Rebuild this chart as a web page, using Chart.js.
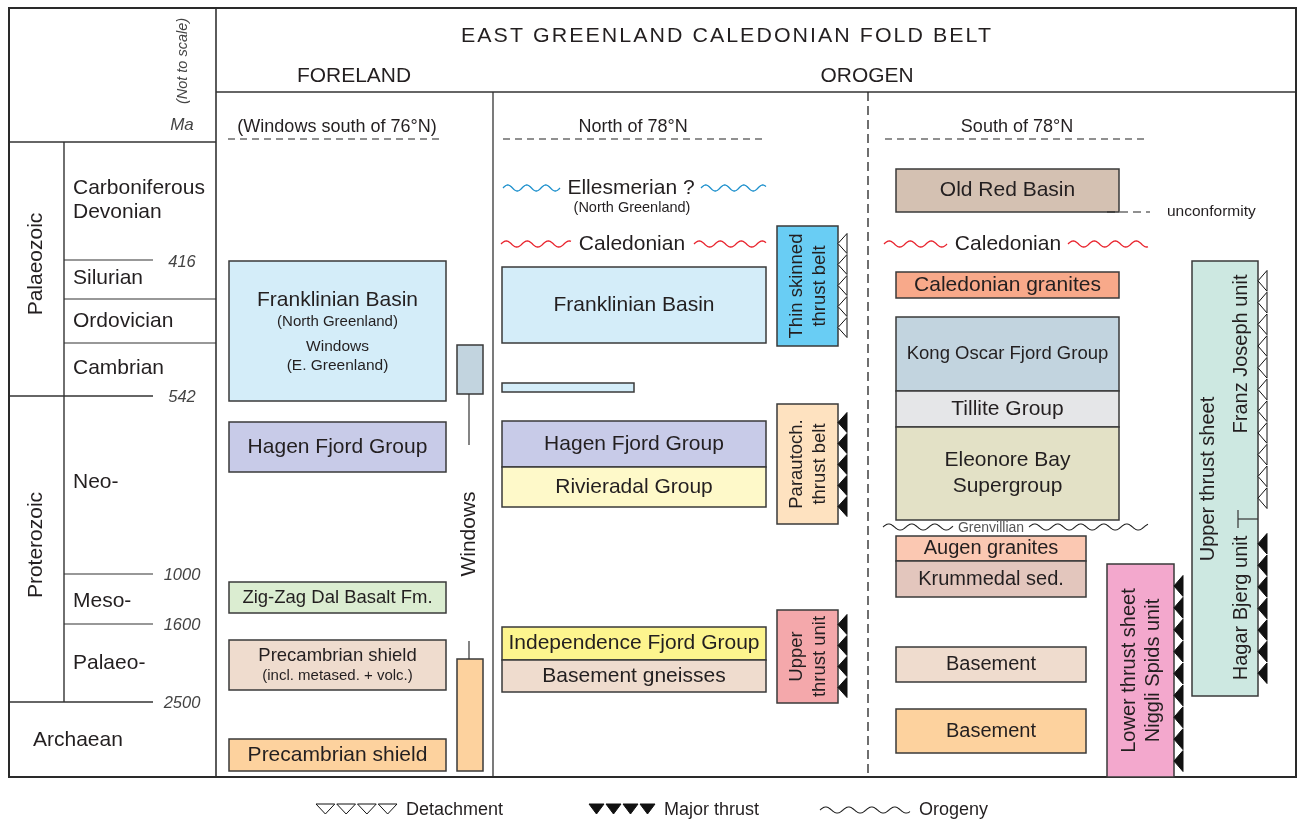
<!DOCTYPE html>
<html><head><meta charset="utf-8">
<script src="https://cdn.jsdelivr.net/npm/chart.js@4.4.1/dist/chart.umd.min.js"></script>
<style>html,body{margin:0;padding:0;background:#fff}#wrap{width:1300px;height:821px}</style>
</head><body><div id="wrap"><canvas id="c" width="1300" height="821"></canvas></div>
<script>
// ================= DATA =================
const title = 'EAST GREENLAND CALEDONIAN FOLD BELT';
const sectionNames = ['FORELAND', 'OROGEN'];
const eraNames = ['Palaeozoic', 'Proterozoic', 'Archaean'];
const periodNames = ['Carboniferous', 'Devonian', 'Silurian', 'Ordovician', 'Cambrian', 'Neo-', 'Meso-', 'Palaeo-'];
const ageTicks = ['416', '542', '1000', '1600', '2500'];
const ageTickLevels = [260, 396, 574, 624, 702];           // position on the (not to scale) time axis
const columnTitles = ['(Windows south of 76°N)', 'North of 78°N', 'South of 78°N'];

const forelandUnits = [['Franklinian Basin', '(North Greenland)', '', 'Windows', '(E. Greenland)'], ['Hagen Fjord Group'], ['Zig-Zag Dal Basalt Fm.'], ['Precambrian shield', '(incl. metased. + volc.)'], ['Precambrian shield']];
const forelandSpans = [[261, 401], [422, 472], [582, 613], [640, 690], [739, 771]];
const windowSpans = [[345, 394], [659, 771]];

const northUnits = [['Franklinian Basin'], [''], ['Hagen Fjord Group'], ['Rivieradal Group'], ['Independence Fjord Group'], ['Basement gneisses']];
const northSpans = [[267, 343], [383, 392], [421, 467], [467, 507], [627, 660], [660, 692]];

const southUnits = [['Old Red Basin'], ['Caledonian granites'], ['Kong Oscar Fjord Group'], ['Tillite Group'], ['Eleonore Bay', 'Supergroup'], ['Augen granites'], ['Krummedal sed.'], ['Basement'], ['Basement']];
const southSpans = [[169, 212], [272, 298], [317, 391], [391, 427], [427, 520], [536, 561], [561, 597], [647, 682], [709, 753]];

const thrustUnits = [['Thin skinned', 'thrust belt'], ['Parautoch.', 'thrust belt'], ['Upper', 'thrust unit'], ['Lower thrust sheet', 'Niggli Spids unit'], ['Upper thrust sheet']];
const thrustSpans = [[226, 346], [404, 524], [610, 703], [564, 777], [261, 696]];
const thrustSubUnits = ['Franz Joseph unit', 'Hagar Bjerg unit'];
// fault contacts: [type, span, count]
const faultTypes = ['detachment', 'major', 'major', 'major', 'detachment', 'major'];
const faultSpans = [[233, 338], [412, 517], [614, 698], [575, 772], [270, 509], [533, 684]];
const faultCounts = [5, 5, 4, 9, 11, 7];

const orogenyNames = ['Ellesmerian ?', 'Caledonian', 'Caledonian', 'Grenvillian'];
const orogenyLevels = [188, 244, 244, 527];
const orogenyNotes = ['(North Greenland)'];
const legendNames = ['Detachment', 'Major thrust', 'Orogeny'];

// ================= LAYOUT / STYLE =================
const INK = '#231f20';
const LINE = '#333333';
const FONT = '"Liberation Sans", Arial, Helvetica, sans-serif';
const forelandX = [229, 446];
const windowX = [457, 483];
const northX = [502, 766];
const southX = [896, 1119];
const southNarrowX = [896, 1086];
const forelandStyle = [
  {fill: '#d4edf9', sizes: [21, 15, 5, 15.5, 15.5]},
  {fill: '#c8cbe8', sizes: [21]},
  {fill: '#dbedd1', sizes: [18.5]},
  {fill: '#efdcce', sizes: [18.5, 15]},
  {fill: '#fdd29e', sizes: [21]}
];
const windowFills = ['#c2d4df', '#fdd29e'];
const northStyle = [
  {fill: '#d4edf9', sizes: [21], x: northX},
  {fill: '#d4edf9', sizes: [10], x: [502, 634]},
  {fill: '#c8cbe8', sizes: [21], x: northX},
  {fill: '#fef9c9', sizes: [21], x: northX},
  {fill: '#fdf58e', sizes: [21], x: northX},
  {fill: '#efdcce', sizes: [21], x: northX}
];
const southStyle = [
  {fill: '#d4c1b2', sizes: [21], x: southX},
  {fill: '#f8a98a', sizes: [21], x: southX},
  {fill: '#c2d4df', sizes: [18.5], x: southX},
  {fill: '#e5e6e8', sizes: [21], x: southX},
  {fill: '#e3e1c6', sizes: [21, 21], x: southX},
  {fill: '#fbc8b2', sizes: [20], x: southNarrowX},
  {fill: '#e3c6bd', sizes: [20], x: southNarrowX},
  {fill: '#efdcce', sizes: [20], x: southNarrowX},
  {fill: '#fdd29e', sizes: [20], x: southNarrowX}
];
const thrustStyle = [
  {fill: '#69cdf4', x: [777, 838], size: 18.5},
  {fill: '#fee2c0', x: [777, 838], size: 18.5},
  {fill: '#f4a8ab', x: [777, 838], size: 18.5},
  {fill: '#f3a8cd', x: [1107, 1174], size: 20},
  {fill: '#cde8e1', x: [1192, 1258], size: 20}
];
const faultEdgeX = [838, 838, 838, 1174, 1258, 1258];

// ================= DRAWING PLUGIN =================
const diagram = {
  id: 'diagram',
  afterDraw(chart) {
    const ctx = chart.ctx;
    const sx = chart.scales.x, sy = chart.scales.y;
    const X = v => sx.getPixelForValue(v);
    const Y = v => sy.getPixelForValue(v);

    function line(x0, y0, x1, y1, color = LINE, lw = 1.5, dash = null) {
      ctx.save();
      ctx.strokeStyle = color; ctx.lineWidth = lw;
      if (dash) ctx.setLineDash(dash);
      ctx.beginPath(); ctx.moveTo(X(x0), Y(y0)); ctx.lineTo(X(x1), Y(y1)); ctx.stroke();
      ctx.restore();
    }
    function rect(x0, x1, y0, y1, fill, stroke = '#3a3a3a', lw = 1.5) {
      ctx.save();
      const px = X(x0), py = Y(y0), w = X(x1) - X(x0), h = Y(y1) - Y(y0);
      ctx.fillStyle = fill; ctx.fillRect(px, py, w, h);
      if (stroke) { ctx.strokeStyle = stroke; ctx.lineWidth = lw; ctx.strokeRect(px, py, w, h); }
      ctx.restore();
    }
    function text(str, x, y, size, o = {}) {
      ctx.save();
      ctx.font = (o.italic ? 'italic ' : '') + size + 'px ' + (o.font || FONT);
      ctx.fillStyle = o.color || INK;
      ctx.textAlign = o.align || 'center';
      ctx.textBaseline = 'middle';
      ctx.translate(X(x), Y(y));
      if (o.rot) ctx.rotate(-Math.PI / 2);
      if (o.spacing) ctx.letterSpacing = o.spacing + 'px';
      if (o.fit) {
        const w = ctx.measureText(str).width;
        ctx.scale(o.fit / w, 1);
      }
      ctx.fillText(str, 0, 0);
      ctx.restore();
    }
    function lines(arr, sizes, cx, cy, o = {}) {
      const lh = sizes.map(s => s * 1.22);
      const total = lh.reduce((a, b) => a + b, 0);
      let pos = -total / 2;
      arr.forEach((s, i) => {
        const c = pos + lh[i] / 2;
        if (s) {
          if (o.rot) text(s, cx + c, cy, sizes[i], o);
          else text(s, cx, cy + c, sizes[i], o);
        }
        pos += lh[i];
      });
    }
    function wave(x0, x1, y, color, amp = 3, wl = 21, lw = 1.3) {
      ctx.save();
      ctx.strokeStyle = color; ctx.lineWidth = lw;
      ctx.beginPath();
      for (let x = x0; x <= x1; x += 0.5) {
        const yy = y - amp * Math.sin((x - x0) / wl * 2 * Math.PI);
        if (x === x0) ctx.moveTo(X(x), Y(yy)); else ctx.lineTo(X(x), Y(yy));
      }
      ctx.stroke(); ctx.restore();
    }
    function sideTris(xe, y0, y1, n, filled, w = 9) {
      ctx.save();
      const h = (y1 - y0) / n;
      ctx.strokeStyle = '#111'; ctx.lineWidth = 1; ctx.fillStyle = filled ? '#111' : '#fff';
      for (let i = 0; i < n; i++) {
        const a = y0 + i * h, b = a + h;
        ctx.beginPath();
        ctx.moveTo(X(xe), Y((a + b) / 2));
        ctx.lineTo(X(xe + w), Y(a + 0.5));
        ctx.lineTo(X(xe + w), Y(b - 0.5));
        ctx.closePath();
        ctx.fill(); ctx.stroke();
      }
      ctx.restore();
    }
    function downTris(x0, x1, y, n, filled, h = 9) {
      ctx.save();
      const w = (x1 - x0) / n;
      ctx.strokeStyle = '#111'; ctx.lineWidth = 1; ctx.fillStyle = filled ? '#111' : '#fff';
      for (let i = 0; i < n; i++) {
        const a = x0 + i * w, b = a + w;
        ctx.beginPath();
        ctx.moveTo(X(a + 1), Y(y - h / 2));
        ctx.lineTo(X(b - 1), Y(y - h / 2));
        ctx.lineTo(X((a + b) / 2), Y(y + h / 2));
        ctx.closePath(); ctx.fill(); ctx.stroke();
      }
      ctx.restore();
    }

    // ---------- frame ----------
    ctx.save(); ctx.fillStyle = '#fff'; ctx.fillRect(0, 0, chart.width, chart.height); ctx.restore();
    line(216, 8, 216, 777, LINE, 1.6);
    line(216, 92, 1296, 92, LINE, 1.3);
    line(493, 92, 493, 777, LINE, 1.3);
    line(868, 92, 868, 777, '#222', 1.3, [9, 5]);
    // left time column
    line(9, 142, 216, 142, LINE, 1.4);
    line(64, 142, 64, 702, LINE, 1.4);
    line(64, 299, 216, 299, LINE, 1.2);
    line(64, 343, 216, 343, LINE, 1.2);
    ageTicks.forEach((t, i) => {
      const lv = ageTickLevels[i];
      const x0 = (t === '542' || t === '2500') ? 9 : 64;
      line(x0, lv, 153, lv, LINE, (x0 === 9) ? 1.4 : 1.2);
      text(t, 182, lv + (t === '416' ? 2 : 1), 16.5, {italic: true, color: '#444'});
    });
    // outer frame
    ctx.save(); ctx.strokeStyle = '#2a2a2a'; ctx.lineWidth = 2;
    ctx.strokeRect(X(9), Y(8), X(1296) - X(9), Y(777) - Y(8)); ctx.restore();

    text('(Not to scale)', 183, 61, 14.5, {italic: true, rot: true, color: '#444'});
    text('Ma', 182, 125, 17, {italic: true, color: '#444'});
    text(eraNames[0], 36, 264, 21, {rot: true});
    text(eraNames[1], 36, 545, 21, {rot: true});
    text(eraNames[2], 33, 740, 21, {align: 'left'});
    const periodY = [188, 212, 278, 321, 368, 482, 601, 663];
    periodNames.forEach((p, i) => text(p, 73, periodY[i], 21, {align: 'left'}));

    // ---------- header ----------
    text(title, 727, 36, 21, {fit: 532, spacing: 2});
    text(sectionNames[0], 354, 76, 21, {fit: 114});
    text(sectionNames[1], 867, 76, 21, {fit: 93});
    const colTitleX = [337, 633, 1017];
    const colDash = [[228, 444], [503, 766], [885, 1148]];
    columnTitles.forEach((c, i) => {
      text(c, colTitleX[i], 127, 18);
      line(colDash[i][0], 139, colDash[i][1], 139, '#222', 1.2, [7, 5]);
    });

    // ---------- foreland ----------
    forelandUnits.forEach((u, i) => {
      const [y0, y1] = forelandSpans[i];
      rect(forelandX[0], forelandX[1], y0, y1, forelandStyle[i].fill);
      lines(u, forelandStyle[i].sizes, (forelandX[0] + forelandX[1]) / 2, (y0 + y1) / 2);
    });
    windowSpans.forEach((s, i) => rect(windowX[0], windowX[1], s[0], s[1], windowFills[i]));
    line(469, 394, 469, 445, LINE, 1.2);
    line(469, 641, 469, 659, LINE, 1.2);
    text('Windows', 469, 534, 21, {rot: true});

    // ---------- north of 78N ----------
    northUnits.forEach((u, i) => {
      const [y0, y1] = northSpans[i], st = northStyle[i];
      rect(st.x[0], st.x[1], y0, y1, st.fill);
      if (u[0]) lines(u, st.sizes, (st.x[0] + st.x[1]) / 2, (y0 + y1) / 2);
    });

    // ---------- south of 78N ----------
    southUnits.forEach((u, i) => {
      const [y0, y1] = southSpans[i], st = southStyle[i];
      rect(st.x[0], st.x[1], y0, y1, st.fill);
      lines(u, st.sizes, (st.x[0] + st.x[1]) / 2, (y0 + y1) / 2);
    });
    line(1107, 212, 1150, 212, '#222', 1.2, [8, 5]);
    text('unconformity', 1167, 212, 15.5, {align: 'left'});

    // ---------- orogenies ----------
    wave(503, 560, orogenyLevels[0], '#1b8fcc', 3, 19);
    wave(701, 766, orogenyLevels[0], '#1b8fcc', 3, 19);
    text(orogenyNames[0], 631, orogenyLevels[0], 21);
    text(orogenyNotes[0], 632, 208, 14.5);
    wave(501, 571, orogenyLevels[1], '#e8202a', 3, 21);
    wave(694, 766, orogenyLevels[1], '#e8202a', 3, 21);
    text(orogenyNames[1], 632, orogenyLevels[1], 21);
    wave(884, 947, orogenyLevels[2], '#e8202a', 3, 21);
    wave(1068, 1148, orogenyLevels[2], '#e8202a', 3, 21);
    text(orogenyNames[2], 1008, orogenyLevels[2], 21);
    wave(883, 953, orogenyLevels[3], '#222', 3, 23, 1.1);
    wave(1029, 1148, orogenyLevels[3], '#222', 3, 23, 1.1);
    text(orogenyNames[3], 991, orogenyLevels[3] + 1, 14, {color: '#555'});

    // ---------- thrust units ----------
    thrustUnits.forEach((u, i) => {
      const [y0, y1] = thrustSpans[i], st = thrustStyle[i];
      rect(st.x[0], st.x[1], y0, y1, st.fill);
      if (i < 4) lines(u, u.map(() => st.size), (st.x[0] + st.x[1]) / 2 + 1, (y0 + y1) / 2, {rot: true});
    });
    text(thrustUnits[4][0], 1208, 479, 20, {rot: true});
    text(thrustSubUnits[0], 1241, 354, 20, {rot: true});
    text(thrustSubUnits[1], 1241, 608, 20, {rot: true});
    line(1238, 510, 1238, 528, LINE, 1.2);
    line(1238, 519, 1258, 519, LINE, 1.2);
    faultTypes.forEach((t, i) => sideTris(faultEdgeX[i], faultSpans[i][0], faultSpans[i][1], faultCounts[i], t === 'major'));

    // ---------- legend ----------
    downTris(315, 398, 809, 4, false, 10);
    text(legendNames[0], 406, 810, 18, {align: 'left'});
    downTris(588, 656, 809, 4, true, 10);
    text(legendNames[1], 664, 810, 18, {align: 'left'});
    wave(820, 910, 810, '#222', 3, 23, 1.1);
    text(legendNames[2], 919, 810, 18, {align: 'left'});
  }
};

new Chart(document.getElementById('c'), {
  type: 'scatter',
  data: {datasets: [{data: [], pointRadius: 0}]},
  options: {
    responsive: false, animation: false, events: [],
    layout: {padding: 0},
    plugins: {legend: {display: false}, tooltip: {enabled: false}},
    scales: {
      x: {type: 'linear', min: 0, max: 1300, display: false},
      y: {type: 'linear', min: 0, max: 821, reverse: true, display: false}
    }
  },
  plugins: [diagram]
});
</script>
</body></html>
